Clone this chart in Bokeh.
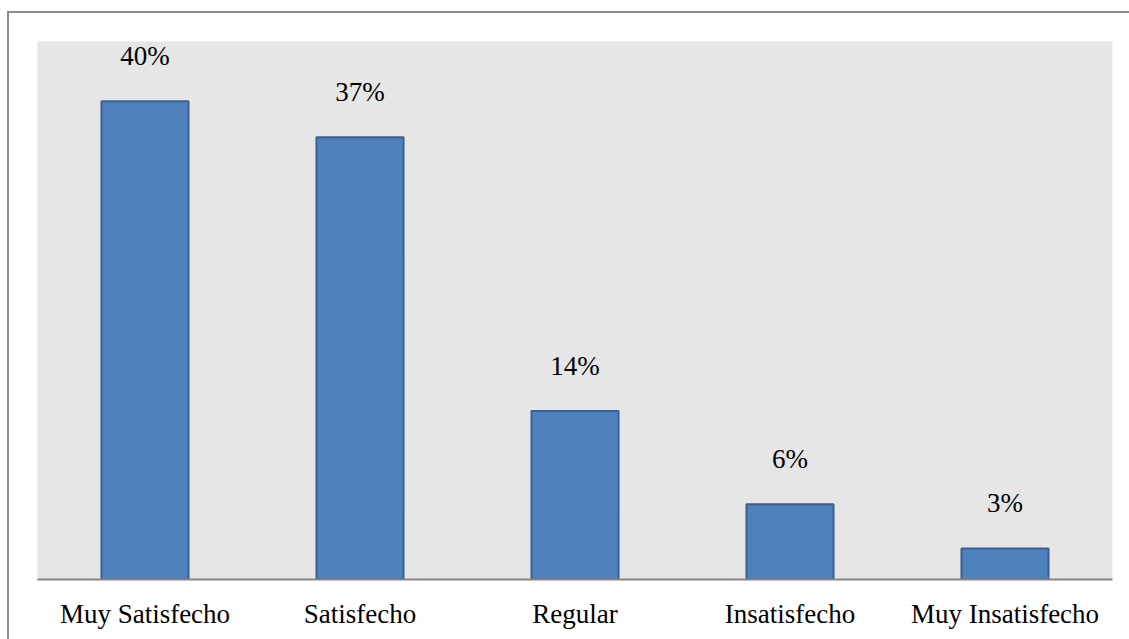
from bokeh.plotting import figure
from bokeh.models import ColumnDataSource, Range1d
from bokeh.embed import file_html
from bokeh.resources import INLINE
from bokeh.core.properties import value

categories = ["Muy Satisfecho", "Satisfecho", "Regular", "Insatisfecho", "Muy Insatisfecho"]
percentages = [40.0, 37.0, 14.1, 6.3, 2.6]
labels = ["40%", "37%", "14%", "6%", "3%"]

src = ColumnDataSource(dict(cat=categories, val=percentages, lab=labels))

FONT = "Liberation Serif"

p = figure(x_range=categories, y_range=Range1d(0, 45),
           width=1122, height=628, output_backend="svg", toolbar_location=None,
           min_border_left=28, min_border_right=19, min_border_top=28, min_border_bottom=62)
p.margin = (11, 0, 0, 7)
p.styles = {"border-left": "2px solid #8c8c8c", "border-top": "2px solid #8c8c8c"}

p.background_fill_color = "#e6e6e6"
p.border_fill_color = "white"
p.outline_line_color = None
p.grid.visible = False
p.x_range.range_padding = 0

p.vbar(x="cat", top="val", width=0.405, source=src,
       fill_color="#4f81bd", line_color="#3a6190", line_width=2)

p.text(x="cat", y="val", text="lab", source=src, y_offset=-30,
       text_align="center", text_baseline="bottom",
       text_font=value(FONT), text_font_size="27px", text_color="black")

p.yaxis.visible = False
xa = p.xaxis[0]
xa.axis_line_color = "#868686"
xa.axis_line_width = 2
xa.major_tick_line_color = None
xa.minor_tick_line_color = None
xa.major_label_text_font = FONT
xa.major_label_text_font_size = "27px"
xa.major_label_text_color = "black"
xa.major_label_standoff = 13

open("out.html", "w").write(file_html(p, INLINE))
